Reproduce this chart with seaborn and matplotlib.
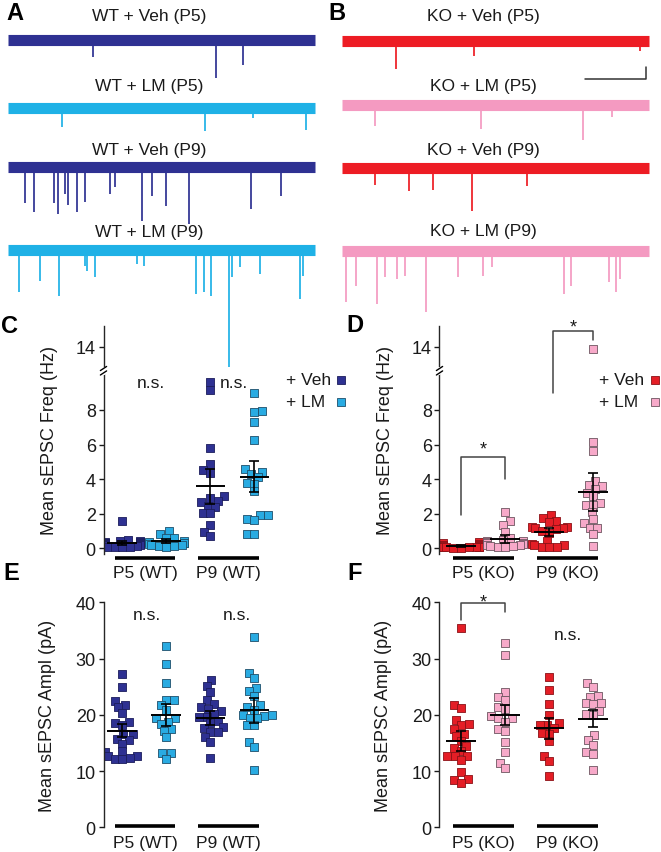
import matplotlib
matplotlib.use("Agg")
import numpy as np
import pandas as pd
import matplotlib.pyplot as plt
import seaborn as sns

# ---- traces (spike position as fraction of sweep, depth below baseline) ----
wt_veh_p5_t = [0.277, 0.678, 0.765]
wt_veh_p5_d = [17, 38, 25]
wt_lm_p5_t = [0.176, 0.642, 0.797, 0.971]
wt_lm_p5_d = [19, 23, 10, 22]
wt_veh_p9_t = [0.055, 0.084, 0.150, 0.162, 0.185, 0.196, 0.226, 0.252, 0.333, 0.350,
               0.437, 0.470, 0.514, 0.590, 0.790, 0.890]
wt_veh_p9_d = [36, 45, 36, 47, 27, 38, 45, 35, 27, 20, 54, 29, 39, 57, 42, 29]
wt_lm_p9_t = [0.036, 0.104, 0.165, 0.251, 0.258, 0.282, 0.419, 0.444, 0.611, 0.638,
              0.662, 0.719, 0.731, 0.756, 0.821, 0.951, 0.962]
wt_lm_p9_d = [42, 31, 46, 16, 21, 27, 14, 16, 44, 42, 46, 117, 27, 17, 24, 49, 26]

ko_veh_p5_t = [0.176, 0.431, 0.971]
ko_veh_p5_d = [28, 15, 10]
ko_lm_p5_t = [0.106, 0.453, 0.784, 0.879]
ko_lm_p5_d = [21, 24, 35, 12]
ko_veh_p9_t = [0.108, 0.218, 0.296, 0.423, 0.603]
ko_veh_p9_d = [17, 23, 22, 43, 18]
ko_lm_p9_t = [0.013, 0.045, 0.114, 0.141, 0.179, 0.206, 0.274, 0.378, 0.460, 0.487,
              0.722, 0.745, 0.871, 0.892, 0.907]
ko_lm_p9_d = [51, 35, 53, 26, 28, 25, 61, 26, 25, 16, 43, 35, 31, 41, 28]

# ---- scatter data ----
conds = ["Veh P5", "LM P5", "Veh P9", "LM P9"]

c_veh_p5 = [1.6, 0.5, 0.45, 0.4, 0.35, 0.35, 0.3, 0.3, 0.3, 0.25, 0.25, 0.2, 0.2, 0.15, 0.1, 0.1, 0.05, 0.05]
c_lm_p5 = [1.0, 0.85, 0.6, 0.6, 0.4, 0.35, 0.3, 0.3, 0.25, 0.2, 0.2, 0.15, 0.15, 0.1]
c_veh_p9 = [9.6, 9.13, 5.78, 4.87, 4.5, 4.35, 3.0, 2.9, 2.76, 2.65, 2.46, 2.37, 2.04, 2.04, 1.35, 0.96, 0.73]
c_lm_p9 = [8.96, 7.93, 7.86, 7.28, 6.26, 4.58, 4.43, 4.3, 4.1, 3.8, 3.72, 3.3, 1.92, 1.92, 1.7, 1.64, 0.8, 0.8]
c_mean = [0.3, 0.4, 3.58, 4.14]
c_err = [0.1, 0.12, 1.0, 0.9]

d_veh_p5 = [0.35, 0.3, 0.25, 0.2, 0.2, 0.2, 0.15, 0.15, 0.1, 0.1, 0.1, 0.1, 0.05, 0.05, 0.05, 0.0, 0.0]
d_lm_p5 = [2.1, 1.55, 1.35, 0.95, 0.6, 0.5, 0.45, 0.4, 0.35, 0.3, 0.3, 0.25, 0.2, 0.2, 0.15, 0.15, 0.1, 0.1]
d_veh_p9 = [1.93, 1.78, 1.6, 1.5, 1.25, 1.25, 1.2, 1.15, 1.1, 1.0, 0.88, 0.45, 0.27, 0.18, 0.17, 0.1, 0.1, 0.05]
d_lm_p9 = [13.9, 6.17, 5.63, 3.9, 3.65, 3.6, 3.4, 3.22, 3.0, 2.6, 2.5, 2.5, 2.08, 1.67, 1.48, 1.2, 1.2, 0.83, 0.12]
d_mean = [0.13, 0.52, 0.95, 3.25]
d_err = [0.05, 0.22, 0.25, 1.1]

e_veh_p5 = [27.3, 25.0, 22.5, 21.8, 21.3, 20.3, 18.8, 18.6, 18.1, 16.6, 16.5, 15.7, 15.5, 14.8,
            13.5, 13.3, 12.6, 12.6, 12.3, 12.2, 12.2]
e_lm_p5 = [32.2, 29.1, 25.7, 22.7, 22.7, 21.8, 20.9, 19.4, 19.4, 18.7, 18.4, 17.5, 17.2, 16.0, 13.2, 13.2, 12.2]
e_veh_p9 = [26.2, 25.2, 24.1, 22.6, 21.9, 21.3, 21.0, 20.6, 20.1, 19.6, 19.6, 18.9, 18.5, 17.8,
            17.6, 16.9, 16.9, 16.0, 15.1, 12.3]
e_lm_p9 = [33.8, 27.4, 26.5, 24.7, 24.2, 23.4, 21.8, 21.3, 20.9, 20.0, 20.0, 19.8, 19.4, 19.4,
           18.2, 18.2, 15.1, 14.3, 10.2]
e_mean = [17.2, 20.0, 19.4, 20.8]
e_err = [1.2, 2.0, 1.2, 2.2]

f_veh_p5 = [35.4, 21.7, 21.2, 19.1, 18.4, 18.2, 17.5, 16.6, 16.3, 15.3, 14.4, 14.1, 13.5, 12.7,
            12.7, 12.7, 12.0, 9.8, 8.5, 8.4, 7.9]
f_lm_p5 = [32.7, 30.6, 24.0, 23.1, 22.7, 21.3, 21.1, 19.7, 19.4, 19.4, 18.8, 17.4, 17.2, 15.1, 13.4, 11.4, 10.5]
f_veh_p9 = [26.7, 24.4, 22.0, 20.0, 18.5, 18.2, 18.2, 17.6, 16.7, 16.6, 15.3, 12.6, 11.7, 9.2]
f_lm_p9 = [25.7, 25.0, 23.4, 23.1, 22.1, 22.1, 21.9, 20.7, 20.2, 20.0, 16.4, 15.6, 14.7, 13.3, 13.1, 10.1]
f_mean = [15.4, 19.95, 17.6, 19.3]
f_err = [1.8, 1.8, 1.9, 1.5]

# ---- colours ----
WT_VEH, WT_LM = "#2e3192", "#1fb1e6"
KO_VEH, KO_LM = "#ed1c24", "#f49ac1"
WT_FILL = ["#2e3192", "#29abe2", "#2e3192", "#29abe2"]
WT_EDGE = ["#1b1d5c", "#1d4f6b", "#1b1d5c", "#1d4f6b"]
KO_FILL = ["#e41e26", "#f7a9c9", "#e41e26", "#f7a9c9"]
KO_EDGE = ["#8b1116", "#6d5560", "#8b1116", "#6d5560"]

sns.set_style("ticks")
plt.rcParams["font.family"] = ["Liberation Sans", "DejaVu Sans"]
plt.rcParams["text.color"] = "#1a1a1a"
plt.rcParams["axes.labelcolor"] = "#1a1a1a"
plt.rcParams["ytick.color"] = "#1a1a1a"

W, H = 661, 853
fig = plt.figure(figsize=(W / 100, H / 100), dpi=100)


def px_axes(left, top, w, h):
    ax = fig.add_axes([left / W, 1 - (top + h) / H, w / W, h / H])
    ax.patch.set_visible(False)
    return ax


# === traces A / B ===
def draw_traces(ax, rows, x0, span, width, labels_y):
    ax.set_xlim(-x0 / span, (width - x0) / span)
    ax.set_ylim(380, 0)
    ax.axis("off")
    for (label, base, times, depths, color), ly in zip(rows, labels_y):
        ax.plot([0, 1], [base, base], color=color, lw=8, solid_capstyle="butt")
        ax.vlines(times, base, np.array(depths) + base, color=color, lw=1.25, clip_on=False)
        ax.text(0.46, ly, label, ha="center", va="center", fontsize=12.5)


axA = px_axes(0, 0, 330, 380)
draw_traces(axA, [("WT + Veh (P5)", 41, wt_veh_p5_t, wt_veh_p5_d, WT_VEH),
                  ("WT + LM (P5)", 109, wt_lm_p5_t, wt_lm_p5_d, WT_LM),
                  ("WT + Veh (P9)", 168, wt_veh_p9_t, wt_veh_p9_d, WT_VEH),
                  ("WT + LM (P9)", 251, wt_lm_p9_t, wt_lm_p9_d, WT_LM)],
            8, 307, 330, [17, 87, 150, 233])
axB = px_axes(330, 0, 331, 380)
draw_traces(axB, [("KO + Veh (P5)", 42, ko_veh_p5_t, ko_veh_p5_d, KO_VEH),
                  ("KO + LM (P5)", 106, ko_lm_p5_t, ko_lm_p5_d, KO_LM),
                  ("KO + Veh (P9)", 169, ko_veh_p9_t, ko_veh_p9_d, KO_VEH),
                  ("KO + LM (P9)", 252, ko_lm_p9_t, ko_lm_p9_d, KO_LM)],
            12, 307, 331, [17, 87, 150, 232])
# scale bar
axB.plot([0.79, 0.99, 0.99], [80, 80, 68], color="#333333", lw=1.1)

# === scatter panels ===
BRK = [-50, 10.2, 12.8, 100]
BRK_D = [-50, 10.2, 10.45, 97.65]


def fwd(y):
    return np.interp(y, BRK, BRK_D)


def inv(d):
    return np.interp(d, BRK_D, BRK)


def scatter_panel(ax, groups, means, errs, fills, edges, xlim):
    df = pd.DataFrame({"cond": np.repeat(conds, [len(g) for g in groups]),
                       "val": np.concatenate(groups)})
    for c, fc, ec in zip(conds, fills, edges):
        sns.swarmplot(data=df[df["cond"] == c], x="cond", y="val", order=conds,
                      color=fc, edgecolor=ec, linewidth=0.6, marker="s", size=4.6,
                      warn_thresh=1.0, zorder=2, ax=ax)
    pos = np.arange(4)
    ax.hlines(means, pos - 0.34, pos + 0.34, color="k", lw=1.4, zorder=4)
    ax.errorbar(pos, means, yerr=errs, fmt="none", ecolor="k", elinewidth=1.2,
                capsize=3.5, capthick=1.2, zorder=4)
    ax.set_xlim(*xlim)
    ax.set_xlabel("")
    ax.set_xticks([])
    sns.despine(ax=ax, bottom=True)
    ax.spines["left"].set_linewidth(1.0)
    ax.tick_params(axis="y", direction="out", length=3.5, width=1.0, labelsize=13, pad=2)


def group_bars(ax, names, bar_y, lab_y):
    tr = ax.get_xaxis_transform()
    for (a, b), name in zip([(-0.18, 1.2), (1.72, 3.1)], names):
        ax.plot([a, b], [bar_y, bar_y], color="k", lw=2.6, transform=tr,
                clip_on=False, solid_capstyle="butt")
        ax.text((a + b) / 2, lab_y, name, transform=tr, ha="center", va="center",
                fontsize=12.5)


def break_marks(ax):
    ax.plot([0, 0], [0.795, 0.81], color="white", lw=3, transform=ax.transAxes,
            clip_on=False, zorder=5)
    for f in (0.793, 0.8125):
        ax.plot([-0.018, 0.018], [f - 0.009, f + 0.009], color="k", lw=1.0,
                transform=ax.transAxes, clip_on=False, zorder=6)


def legend(fills, edges, x_text, x_mark):
    for i, (lab, y) in enumerate([("+ Veh", 381), ("+ LM", 402.5)]):
        fig.text(x_text / W, 1 - y / H, lab, ha="left", va="center", fontsize=12.5)
        fig.add_artist(plt.Line2D([x_mark / W], [1 - y / H], ls="none", marker="s",
                                  ms=5.5, mfc=fills[i], mec=edges[i], mew=0.6,
                                  transform=fig.transFigure))


axC = px_axes(103.5, 326.7, 173, 228.3)
axD = px_axes(439.5, 326.7, 173, 228.3)
axE = px_axes(103.5, 603.3, 173, 225)
axF = px_axes(439.5, 603.3, 173, 225)

scatter_panel(axC, [c_veh_p5, c_lm_p5, c_veh_p9, c_lm_p9], c_mean, c_err, WT_FILL, WT_EDGE, (-0.43, 3.5))
scatter_panel(axD, [d_veh_p5, d_lm_p5, d_veh_p9, d_lm_p9], d_mean, d_err, KO_FILL, KO_EDGE, (-0.49, 3.44))
scatter_panel(axE, [e_veh_p5, e_lm_p5, e_veh_p9, e_lm_p9], e_mean, e_err, WT_FILL, WT_EDGE, (-0.43, 3.5))
scatter_panel(axF, [f_veh_p5, f_lm_p5, f_veh_p9, f_lm_p9], f_mean, f_err, KO_FILL, KO_EDGE, (-0.49, 3.44))

for ax in (axC, axD):
    ax.set_yscale("function", functions=(fwd, inv))
    ax.set_ylim(-0.33, 15.22)
    ax.set_yticks([0, 2, 4, 6, 8, 14])
    ax.set_yticklabels(["0", "2", "4", "6", "8", "14"])
    ax.minorticks_off()
    ax.set_ylabel("Mean sEPSC Freq (Hz)", fontsize=13)
    ax.yaxis.set_label_coords(-0.265, 0.5)
    break_marks(ax)
    group_bars(ax, ["P5 (WT)", "P9 (WT)"] if ax is axC else ["P5 (KO)", "P9 (KO)"], -0.0175, -0.079)

for ax in (axE, axF):
    ax.set_ylim(0, 40)
    ax.set_yticks([0, 10, 20, 30, 40])
    ax.set_ylabel("Mean sEPSC Ampl (pA)", fontsize=13)
    ax.yaxis.set_label_coords(-0.275, 0.5)
    group_bars(ax, ["P5 (WT)", "P9 (WT)"] if ax is axE else ["P5 (KO)", "P9 (KO)"], 0.007, -0.066)

# annotations
axC.text(0.65, 9.6, "n.s.", ha="center", va="center", fontsize=12.5)
axC.text(2.54, 9.6, "n.s.", ha="center", va="center", fontsize=12.5)
axE.text(0.55, 37.9, "n.s.", ha="center", va="center", fontsize=12.5)
axE.text(2.6, 37.9, "n.s.", ha="center", va="center", fontsize=12.5)
axF.text(2.42, 34.3, "n.s.", ha="center", va="center", fontsize=12.5)

br = dict(color="#444444", lw=1.1, clip_on=False)
axD.plot([0, 0, 1, 1], [1.9, 5.3, 5.3, 4.0], **br)
axD.text(0.5, 5.49, "*", ha="center", va="baseline", fontsize=13)
axD.plot([2.08, 2.08, 3.0, 3.0], [8.95, 14.92, 14.92, 14.38], **br)
axD.text(2.55, 14.89, "*", ha="center", va="baseline", fontsize=13, clip_on=False)
axF.plot([0, 0, 1, 1], [36.9, 39.8, 39.8, 38.2], **br)
axF.text(0.5, 39.2, "*", ha="center", va="baseline", fontsize=13, clip_on=False)

legend(WT_FILL, WT_EDGE, 286, 341)
legend(KO_FILL, KO_EDGE, 599, 655)

# panel letters
for letter, x, y in [("A", 15, 14), ("B", 337, 14), ("C", 9.5, 327),
                     ("D", 354.5, 326), ("E", 11.5, 574), ("F", 354.5, 574)]:
    fig.text(x / W, 1 - y / H, letter, ha="center", va="center",
             fontsize=17, fontweight="bold", color="black")

# lay the swarms out with a smaller footprint, then draw the squares larger
fig.canvas.draw()
for ax in (axC, axD, axE, axF):
    for coll in ax.collections:
        if "draw" in coll.__dict__:
            del coll.draw
            coll.set_sizes([5.4 ** 2])

fig.savefig("out.png", dpi=100)
